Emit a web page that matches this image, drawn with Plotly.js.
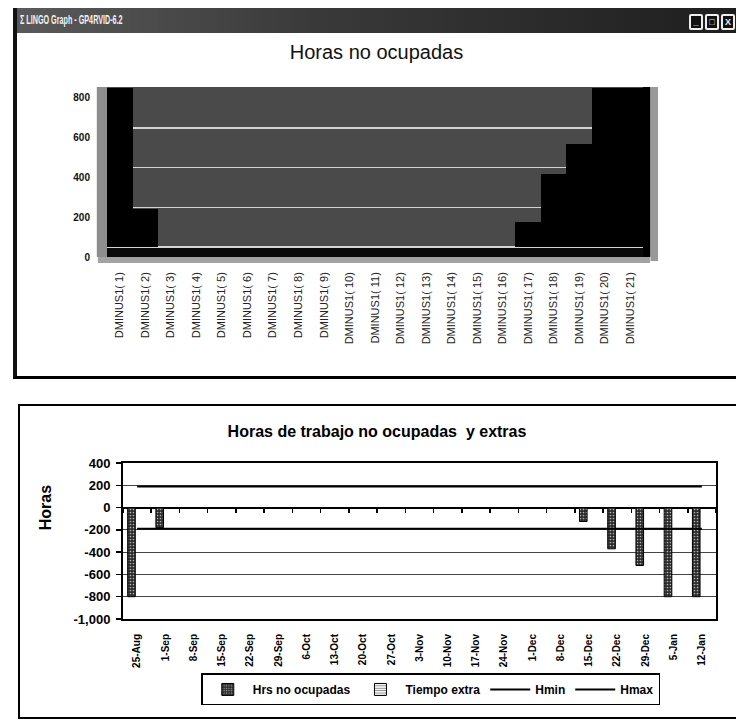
<!DOCTYPE html>
<html>
<head>
<meta charset="utf-8">
<script src="https://cdn.plot.ly/plotly-3.0.1.min.js"></script>
<style>
  html, body { margin:0; padding:0; width:736px; height:720px; overflow:hidden; background:#fff; }
  #win { position:absolute; left:13px; top:8px; width:730px; height:371px; background:#fff;
         border-left:4px solid #111; border-bottom:4px solid #000; box-sizing:border-box; }
  #titlebar { position:absolute; left:0; top:0; right:0; height:25px;
              background:linear-gradient(to right, #5a5a5a, #3a3a3a 40%, #1e1e1e); }
  #titletext { position:absolute; left:3px; top:5px; color:#f2f2f2; font:bold 12px "Liberation Sans",Arial,sans-serif;
               transform:scaleX(0.6); transform-origin:left center; white-space:nowrap; }
  .btn { position:absolute; top:6px; width:10px; height:12px; border:2px solid #eee; border-radius:2px; background:#111;
         color:#eee; font:bold 9px "Liberation Sans",Arial,sans-serif; text-align:center; line-height:12px; }
  #top { position:absolute; left:17px; top:33px; width:719px; height:343px; }
  #bottom { position:absolute; left:18px; top:404px; width:718px; height:314px; }
  #frame2 { position:absolute; left:18px; top:404px; width:740px; height:315px; border:2px solid #000;
            box-sizing:border-box; pointer-events:none; }
</style>
</head>
<body>
<div id="win">
  <div id="titlebar">
    <div id="titletext">Σ LINGO Graph - GP4RVID-6.2</div>
    <div class="btn" style="left:672px;">_</div>
    <div class="btn" style="left:688px;">□</div>
    <div class="btn" style="left:704px;">X</div>
  </div>
</div>
<div id="top"></div>
<div id="bottom"></div>
<div id="frame2"></div>
<script>
// ---------- Data (top chart: LINGO graph) ----------
const dminusLabels = ['DMINUS1( 1)','DMINUS1( 2)','DMINUS1( 3)','DMINUS1( 4)','DMINUS1( 5)','DMINUS1( 6)','DMINUS1( 7)',
  'DMINUS1( 8)','DMINUS1( 9)','DMINUS1( 10)','DMINUS1( 11)','DMINUS1( 12)','DMINUS1( 13)','DMINUS1( 14)',
  'DMINUS1( 15)','DMINUS1( 16)','DMINUS1( 17)','DMINUS1( 18)','DMINUS1( 19)','DMINUS1( 20)','DMINUS1( 21)'];
const dminusValues = [800, 190, 0, 0, 0, 0, 0, 0, 0, 0, 0, 0, 0, 0, 0, 0, 125, 370, 520, 800, 800];
const topTickVals = [0, 200, 400, 600, 800];

// ---------- Data (bottom chart: Excel chart) ----------
const weeks = ['25-Aug','1-Sep','8-Sep','15-Sep','22-Sep','29-Sep','6-Oct','13-Oct','20-Oct','27-Oct','3-Nov',
  '10-Nov','17-Nov','24-Nov','1-Dec','8-Dec','15-Dec','22-Dec','29-Dec','5-Jan','12-Jan'];
const hrsNoOcupadas = [-800, -180, 0, 0, 0, 0, 0, 0, 0, 0, 0, 0, 0, 0, 0, 0, -125, -370, -520, -800, -800];
const tiempoExtra   = [0, 0, 0, 0, 0, 0, 0, 0, 0, 0, 0, 0, 0, 0, 0, 0, 0, 0, 0, 0, 0];
const hmin = [-190, -190, -190, -190, -190, -190, -190, -190, -190, -190, -190, -190, -190, -190, -190, -190, -190, -190, -190, -190, -190];
const hmax = [190, 190, 190, 190, 190, 190, 190, 190, 190, 190, 190, 190, 190, 190, 190, 190, 190, 190, 190, 190, 190];
const bottomTickVals = [400, 200, 0, -200, -400, -600, -800, -1000];
const bottomTickText = ['400', '200', '0', '-200', '-400', '-600', '-800', '-1,000'];

const FONT = '"Liberation Sans", Arial, sans-serif';

// ---------- Top chart ----------
const topRange = [-80, 805];
const py = v => (v - topRange[0]) / (topRange[1] - topRange[0]);
const topShapes = [
  {type:'rect', xref:'paper', yref:'paper', x0:-0.017, x1:1.013, y0:py(-80), y1:py(-50), fillcolor:'#a2a2a2', line:{width:0}, layer:'below'},
  {type:'rect', xref:'paper', yref:'paper', x0:0, x1:1, y0:py(-50), y1:py(0), fillcolor:'#0a0a0a', line:{width:0}, layer:'below'},
  {type:'rect', xref:'paper', yref:'paper', x0:-0.019, x1:0, y0:py(-50), y1:py(805), fillcolor:'#8e8e8e', line:{width:0}, layer:'below'},
  {type:'rect', xref:'paper', yref:'paper', x0:1, x1:1.014, y0:py(-50), y1:py(805), fillcolor:'#000', line:{width:0}, layer:'below'},
  {type:'rect', xref:'paper', yref:'paper', x0:1.014, x1:1.028, y0:py(-70), y1:py(805), fillcolor:'#9a9a9a', line:{width:0}, layer:'below'}
];
Plotly.newPlot('top', [{
  type:'bar', x:dminusLabels, y:dminusValues,
  marker:{color:'#000', line:{width:0}}, hoverinfo:'skip'
}], {
  width:719, height:343,
  margin:{l:90, r:93, t:54, b:113},
  paper_bgcolor:'#fff', plot_bgcolor:'#4a4a4a',
  title:{text:'Horas no ocupadas', font:{family:FONT, size:20, color:'#111'},
         x:0.5, xref:'container', y:1-19/343, yref:'container', yanchor:'middle'},
  bargap:0,
  showlegend:false,
  shapes:topShapes,
  xaxis:{type:'category', showgrid:false, showline:false, zeroline:false, ticks:'',
         tickangle:-90, tickfont:{family:FONT, size:11, color:'#222'}, ticklabelstandoff:6},
  yaxis:{range:topRange, tickvals:topTickVals, showgrid:true, gridcolor:'#d4d4d4', gridwidth:1.5,
         zeroline:false, showline:false, ticks:'', ticklabelstandoff:16, ticklabelshift:10,
         tickfont:{family:FONT, size:10, color:'#111', weight:'bold'}}
}, {staticPlot:true, displayModeBar:false});

// ---------- Bottom chart ----------
Plotly.newPlot('bottom', [
  {type:'bar', name:'Hrs no ocupadas', x:weeks, y:hrsNoOcupadas, width:0.27, offset:-0.335,
   marker:{color:'#3a3a3a', line:{color:'#000', width:1},
           pattern:{shape:'.', bgcolor:'#2a2a2a', fgcolor:'#b0b0b0', size:3, solidity:0.25}}},
  {type:'bar', name:'Tiempo extra', x:weeks, y:tiempoExtra, width:0.27, offset:0.065,
   marker:{color:'#e6e6e6', line:{color:'#000', width:1},
           pattern:{shape:'-', bgcolor:'#f2f2f2', fgcolor:'#777', size:3, solidity:0.3}}},
  {type:'scatter', mode:'lines', name:'Hmin', x:weeks, y:hmin, xaxis:'x2', line:{color:'#000', width:2}},
  {type:'scatter', mode:'lines', name:'Hmax', x:weeks, y:hmax, xaxis:'x2', line:{color:'#000', width:2}}
], {
  width:718, height:314,
  margin:{l:105, r:20, t:59, b:92},
  paper_bgcolor:'rgba(0,0,0,0)', plot_bgcolor:'#fff',
  title:{text:'Horas de trabajo no ocupadas  y extras', font:{family:FONT, size:16, color:'#000', weight:'bold'},
         x:0.5, xref:'container', y:1-27/314, yref:'container', yanchor:'middle'},
  barmode:'overlay',
  xaxis:{type:'category', range:[-0.5, 20.5], showgrid:false, zeroline:false, showline:true, linecolor:'#000',
         linewidth:2, mirror:true, ticks:'', tickangle:-90, ticklabelstandoff:9,
         tickfont:{family:FONT, size:10, color:'#000', weight:'bold'}},
  xaxis2:{type:'category', overlaying:'x', anchor:'free', position:1000/1400, side:'bottom',
          range:[-0.5, 20.5], showgrid:false, zeroline:false, showline:false, showticklabels:false,
          ticks:'outside', ticklen:4, tickwidth:1.5, tickcolor:'#000', tickson:'boundaries'},
  yaxis:{range:[-1000, 400], tickvals:bottomTickVals, ticktext:bottomTickText, showgrid:true, gridcolor:'#444',
         gridwidth:1, zeroline:true, zerolinecolor:'#000', zerolinewidth:2, showline:true, linecolor:'#000',
         linewidth:2, mirror:true, ticks:'outside', ticklen:5, tickcolor:'#000', tickwidth:1.5,
         ticklabelstandoff:3, tickfont:{family:FONT, size:13, color:'#000', weight:'bold'}},
  annotations:[{text:'Horas', xref:'paper', yref:'paper', x:(27-105)/593, y:0.71, showarrow:false, textangle:-90,
                font:{family:FONT, size:16, color:'#000', weight:'bold'}, xanchor:'center', yanchor:'middle'}],
  showlegend:true,
  legend:{orientation:'h', x:0.519, xanchor:'center', y:-0.349, yanchor:'top', bgcolor:'#fff',
          bordercolor:'#000', borderwidth:1.5, font:{family:FONT, size:12, color:'#000', weight:'bold'},
          traceorder:'normal', itemwidth:40, tracegroupgap:0}
}, {staticPlot:true, displayModeBar:false});
</script>
</body>
</html>
